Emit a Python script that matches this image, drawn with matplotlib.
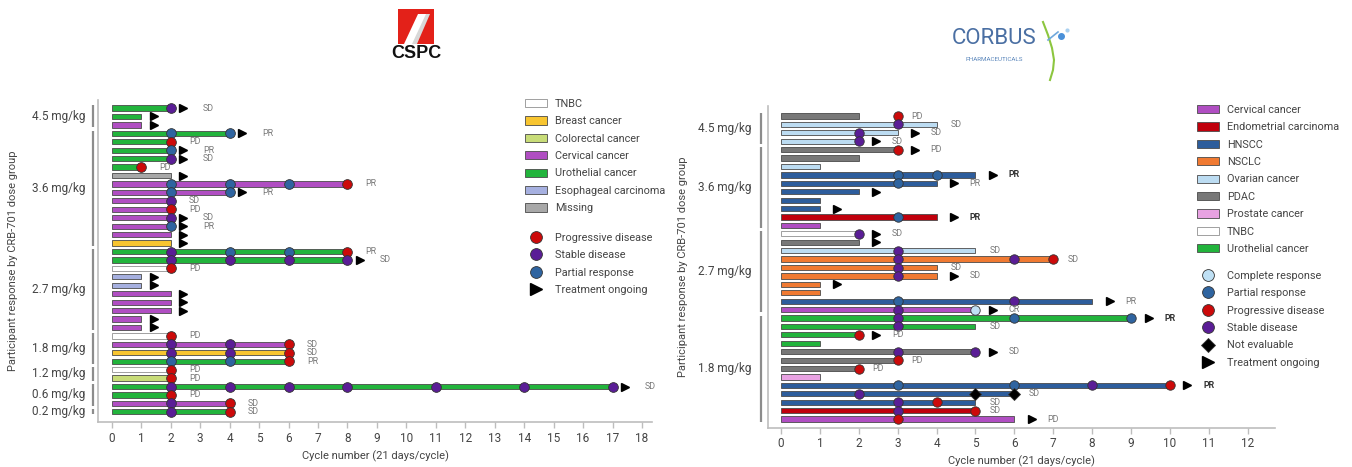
import numpy as np
import matplotlib
matplotlib.use("Agg")
import matplotlib.pyplot as plt
from matplotlib.patches import Patch, Rectangle, Polygon
from matplotlib.lines import Line2D

plt.rcParams['font.family'] = ['Roboto', 'DejaVu Sans']

W, H = 1352, 467

# ---------------- lewy wykres (CSPC) ----------------
left_dose_labels = ["4.5 mg/kg", "3.6 mg/kg", "2.7 mg/kg", "1.8 mg/kg", "1.2 mg/kg", "0.6 mg/kg", "0.2 mg/kg"]
left_dose_sizes = [3, 14, 10, 4, 2, 3, 1]
left_cancer = ["Uro", "Uro", "Cerv",
               "Uro", "Uro", "Uro", "Uro", "Uro", "Miss", "Cerv", "Cerv", "Cerv", "Cerv", "Cerv", "Cerv", "Cerv", "Breast",
               "Uro", "Uro", "TNBC", "Eso", "Eso", "Cerv", "Cerv", "Cerv", "Cerv", "Cerv",
               "TNBC", "Cerv", "Breast", "Uro",
               "TNBC", "Colo",
               "Uro", "Uro", "Cerv",
               "Uro"]
left_cycles = [2, 1, 1,
               4, 2, 2, 2, 1, 2, 8, 4, 2, 2, 2, 2, 2, 2,
               8, 8, 2, 1, 1, 2, 2, 2, 1, 1,
               2, 6, 6, 6,
               2, 2,
               17, 2, 4,
               4]
left_resp = [[(2, "SD")], [], [],
             [(2, "PR"), (4, "PR")], [(2, "PD")], [(2, "PR")], [(2, "SD")], [(1, "PD")], [],
             [(2, "PR"), (4, "PR"), (6, "PR"), (8, "PD")], [(2, "PR"), (4, "PR")], [(2, "SD")], [(2, "PD")],
             [(2, "SD")], [(2, "PR")], [], [],
             [(2, "SD"), (4, "PR"), (6, "PR"), (8, "PD")], [(2, "SD"), (4, "SD"), (6, "SD"), (8, "SD")],
             [(2, "PD")], [], [], [], [], [], [], [],
             [(2, "PD")], [(2, "SD"), (4, "SD"), (6, "PD")], [(2, "SD"), (4, "SD"), (6, "PD")],
             [(2, "PR"), (4, "PR"), (6, "PD")],
             [(2, "PD")], [(2, "PD")],
             [(2, "SD"), (4, "SD"), (6, "SD"), (8, "SD"), (11, "SD"), (14, "SD"), (17, "SD")], [(2, "PD")],
             [(2, "SD"), (4, "PD")],
             [(2, "SD"), (4, "PD")]]
left_ongoing = [1, 1, 1,
                1, 0, 1, 1, 0, 1, 0, 1, 0, 0, 1, 1, 1, 1,
                0, 1, 0, 1, 1, 1, 1, 1, 1, 1,
                0, 0, 0, 0,
                0, 0,
                1, 0, 0,
                0]
left_best = ["SD", "", "",
             "PR", "PD", "PR", "SD", "PD", "", "PR", "PR", "SD", "PD", "SD", "PR", "", "",
             "PR", "SD", "PD", "", "", "", "", "", "", "",
             "PD", "SD", "SD", "PR",
             "PD", "PD",
             "SD", "PD", "SD",
             "SD"]
left_bold = []

left_names = {"TNBC": "TNBC", "Breast": "Breast cancer", "Colo": "Colorectal cancer",
              "Cerv": "Cervical cancer", "Uro": "Urothelial cancer",
              "Eso": "Esophageal carcinoma", "Miss": "Missing"}
left_colors = {"TNBC": "#ffffff", "Breast": "#f8c530", "Colo": "#c8dc78",
               "Cerv": "#b04ec2", "Uro": "#22b43c", "Eso": "#a6b0e0", "Miss": "#a8a8a8"}

# ---------------- prawy wykres (Corbus) ----------------
right_dose_labels = ["4.5 mg/kg", "3.6 mg/kg", "2.7 mg/kg", "1.8 mg/kg"]
right_dose_sizes = [4, 10, 10, 13]
right_cancer = ["PDAC", "Ov", "Ov", "Ov",
                "PDAC", "PDAC", "Ov", "HN", "HN", "HN", "HN", "HN", "Endo", "Cerv",
                "TNBC", "PDAC", "Ov", "NSCLC", "NSCLC", "NSCLC", "NSCLC", "NSCLC", "HN", "Cerv",
                "Uro", "Uro", "Uro", "Uro", "PDAC", "PDAC", "PDAC", "Pros", "HN", "HN", "HN", "Endo", "Cerv"]
right_cycles = [2, 4, 3, 2,
                3, 2, 1, 5, 4, 2, 1, 1, 4, 1,
                2, 2, 5, 7, 4, 4, 1, 1, 8, 5,
                9, 5, 2, 1, 5, 3, 2, 1, 10, 6, 5, 5, 6]
right_resp = [[(3, "PD")], [(3, "SD")], [(2, "SD")], [(2, "SD")],
              [(3, "PD")], [], [], [(3, "PR"), (4, "PR")], [(3, "PR")], [], [], [], [(3, "PR")], [],
              [(2, "SD")], [], [(3, "SD")], [(3, "SD"), (6, "SD"), (7, "PD")], [(3, "SD")], [(3, "SD")], [], [],
              [(3, "PR"), (6, "SD")], [(3, "SD"), (5, "CR")],
              [(3, "SD"), (6, "PR"), (9, "PR")], [(3, "SD")], [(2, "PD")], [], [(3, "SD"), (5, "SD")],
              [(3, "PD")], [(2, "PD")], [], [(3, "PR"), (6, "PR"), (8, "SD"), (10, "PD")],
              [(2, "SD"), (5, "NE"), (6, "NE")], [(3, "SD"), (4, "PD")], [(3, "SD"), (5, "PD")], [(3, "PD")]]
right_ongoing = [0, 0, 1, 1,
                 1, 0, 0, 1, 1, 1, 0, 1, 1, 0,
                 1, 1, 0, 0, 0, 1, 1, 0, 1, 1,
                 1, 0, 1, 0, 1, 0, 0, 0, 1, 0, 0, 0, 1]
right_best = ["PD", "SD", "SD", "SD",
              "PD", "", "", "PR", "PR", "", "", "", "PR", "",
              "SD", "", "SD", "SD", "SD", "SD", "", "", "PR", "CR",
              "PR", "SD", "PD", "", "SD", "PD", "PD", "", "PR", "SD", "SD", "SD", "PD"]
right_bold = [7, 12, 24, 32]

right_names = {"Cerv": "Cervical cancer", "Endo": "Endometrial carcinoma", "HN": "HNSCC",
               "NSCLC": "NSCLC", "Ov": "Ovarian cancer", "PDAC": "PDAC", "Pros": "Prostate cancer",
               "TNBC": "TNBC", "Uro": "Urothelial cancer"}
right_colors = {"Cerv": "#b04ec2", "Endo": "#c0000c", "HN": "#2d5d9c", "NSCLC": "#f07a32",
                "Ov": "#bcdcf2", "PDAC": "#787878", "Pros": "#e8a2e2", "TNBC": "#ffffff",
                "Uro": "#22b43c"}

resp_names = {"CR": "Complete response", "PR": "Partial response", "PD": "Progressive disease",
              "SD": "Stable disease", "NE": "Not evaluable"}
resp_colors = {"CR": "#bfe0f4", "PR": "#2f64a0", "PD": "#cc0a0a", "SD": "#5a1d96", "NE": "#000000"}
resp_markers = {"CR": "o", "PR": "o", "PD": "o", "SD": "o", "NE": "D"}


def swimmer(ax, cancer, cycles, resp, ongoing, best, bold, colors, ms,
            arrow_dx, lab_dx, lab_dx_arrow):
    y = np.arange(len(cycles))
    ax.barh(y, cycles, height=0.62, color=[colors[c] for c in cancer],
            edgecolor=["#909090" if c == "TNBC" else "#4a4a4a" for c in cancer],
            linewidth=0.6, zorder=2)
    for i in range(len(cycles)):
        for cyc, r in resp[i]:
            ax.plot(cyc, y[i], marker=resp_markers[r],
                    ms=ms * (0.85 if r == "NE" else 1), mfc=resp_colors[r],
                    mec="#333333", mew=0.6, ls="none", zorder=3)
        end = max([cycles[i]] + [c for c, _ in resp[i]])
        if ongoing[i]:
            ax.plot(end + arrow_dx, y[i], marker=">", ms=5.5, color="black", zorder=3)
            lx = end + lab_dx_arrow
        else:
            lx = end + lab_dx
        if best[i]:
            ax.text(lx, y[i], best[i], fontsize=6.4, va="center", ha="left",
                    color="#333333" if i in bold else "#7a7a7a",
                    fontweight="bold" if i in bold else "normal")
    return y


def style(ax, xmax_tick, xlim, ylim, dose_labels, dose_sizes, bx, tx):
    ax.set_xlim(*xlim)
    ax.set_ylim(*ylim)
    ax.set_xticks(range(xmax_tick + 1))
    ax.set_yticks([])
    for s in ["top", "right"]:
        ax.spines[s].set_visible(False)
    for s in ["left", "bottom"]:
        ax.spines[s].set_color("#bdbdbd")
        ax.spines[s].set_linewidth(1.2)
    ax.tick_params(axis="x", colors="#bdbdbd", labelcolor="#444444",
                   labelsize=8.5, length=4, width=1, pad=3)
    ax.set_xlabel("Cycle number (21 days/cycle)", fontsize=8, color="#444444", labelpad=4)
    ax.set_ylabel("Participant response by CRB-701 dose group", fontsize=8, color="#444444")
    start = 0
    for lab, size in zip(dose_labels, dose_sizes):
        ax.plot([bx, bx], [start - 0.3, start + size - 0.7], color="#8c8c8c", lw=1.6,
                clip_on=False, solid_capstyle="butt")
        ax.text(tx, start + (size - 1) / 2, lab, ha="right", va="center",
                fontsize=8.5, color="#444444")
        start += size


fig = plt.figure(figsize=(W / 100, H / 100), dpi=100)

# lewy
ax1 = fig.add_axes([98 / W, 1 - 422 / H, 554 / W, 322 / H])
swimmer(ax1, left_cancer, left_cycles, left_resp, left_ongoing, left_best, left_bold,
        left_colors, 7, 0.42, 0.62, 1.1)
style(ax1, 18, (-0.47, 18.34), (37.2, -0.95), left_dose_labels, left_dose_sizes, -0.64, -0.91)
ax1.yaxis.set_label_coords(-0.144, 0.5)

# prawy
ax2 = fig.add_axes([767.7 / W, 1 - 427.7 / H, 507.3 / W, 321.7 / H])
swimmer(ax2, right_cancer, right_cycles, right_resp, right_ongoing, right_best, right_bold,
        right_colors, 6.8, 0.45, 0.36, 0.85)
style(ax2, 12, (-0.34, 12.7), (37.03, -1.19), right_dose_labels, right_dose_sizes, -0.52, -0.75)
ax2.yaxis.set_label_coords(-0.157, 0.5)

# legendy
leg_kw = dict(loc="upper left", frameon=False, fontsize=7.8, handlelength=2.0,
              handleheight=0.8, handletextpad=0.75, labelspacing=0.68,
              borderpad=0, borderaxespad=0, labelcolor="#444444")


def patch_handles(names, colors):
    return [Patch(facecolor=colors[k], edgecolor="#909090" if k == "TNBC" else "#4a4a4a",
                  linewidth=0.6, label=names[k]) for k in names]


def resp_handles(keys):
    hs = [Line2D([], [], ls="none", marker=resp_markers[k], ms=8.5 if k != "NE" else 7.5,
                 mfc=resp_colors[k], mec="#333333", mew=0.6, label=resp_names[k]) for k in keys]
    hs.append(Line2D([], [], ls="none", marker=">", ms=8, color="black", label="Treatment ongoing"))
    return hs


l1 = fig.legend(handles=patch_handles(left_names, left_colors),
                bbox_to_anchor=(525 / W, 1 - 99 / H), **leg_kw)
l2 = fig.legend(handles=resp_handles(["PD", "SD", "PR"]),
                bbox_to_anchor=(525 / W, 1 - 233 / H), **leg_kw)
r1 = fig.legend(handles=patch_handles(right_names, right_colors),
                bbox_to_anchor=(1197 / W, 1 - 105 / H), **leg_kw)
r2 = fig.legend(handles=resp_handles(["CR", "PR", "PD", "SD", "NE"]),
                bbox_to_anchor=(1197 / W, 1 - 271 / H), **leg_kw)


def px(x, y):
    return (x / W, 1 - y / H)


# logo CSPC
fig.add_artist(Rectangle(px(398, 44), 36 / W, 35 / H, transform=fig.transFigure,
                         facecolor="#e32119", edgecolor="none"))
fig.add_artist(Polygon([px(407, 44), px(417, 44), px(430, 14), px(421, 14)], closed=True,
                       transform=fig.transFigure, facecolor="#d8d8d8", edgecolor="none"))
fig.add_artist(Polygon([px(404, 44), px(412, 44), px(426, 14), px(418, 14)], closed=True,
                       transform=fig.transFigure, facecolor="white", edgecolor="none"))
fig.text(*px(416, 54), "CSPC", ha="center", va="center", fontsize=13, fontweight="bold",
         family=["Liberation Sans", "DejaVu Sans"], color="#111111")

# logo Corbus
fig.text(*px(994, 38), "CORBUS", ha="center", va="center", fontsize=16,
         color="#4a6fa3", family=["Roboto", "DejaVu Sans"])
fig.text(*px(994, 59), "PHARMACEUTICALS", ha="center", va="center", fontsize=4.5,
         color="#5a86bb")
sw_x = [1043, 1048, 1052, 1054, 1053, 1050]
sw_y = [22, 35, 48, 60, 70, 80]
fig.add_artist(Line2D([x / W for x in sw_x], [1 - y / H for y in sw_y], transform=fig.transFigure,
                      color="#8cc63f", lw=1.5))
fig.add_artist(Line2D([1048 / W, 1058 / W], [1 - 40 / H, 1 - 32 / H], transform=fig.transFigure,
                      color="#6fa8dc", lw=1.2))
fig.add_artist(Line2D([1061 / W], [1 - 36 / H], transform=fig.transFigure, marker="o", ms=4,
                      color="#4a90d9", ls="none"))
fig.add_artist(Line2D([1067 / W], [1 - 30 / H], transform=fig.transFigure, marker="o", ms=2,
                      color="#a9d0f0", ls="none"))

fig.savefig("out.png", dpi=100)
